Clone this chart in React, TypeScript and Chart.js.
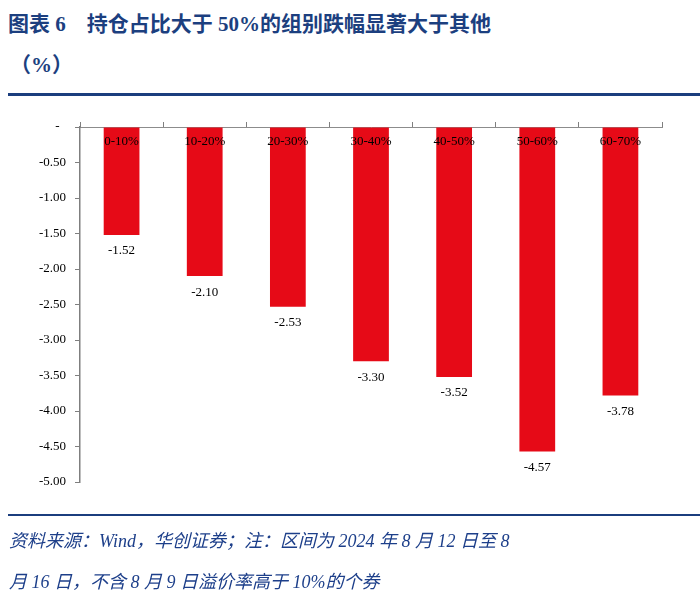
import React, { useEffect, useRef } from "react";
import { Chart, registerables } from "chart.js";

Chart.register(...registerables);

const categories = ["0-10%", "10-20%", "20-30%", "30-40%", "40-50%", "50-60%", "60-70%"];
const values = [-1.52, -2.1, -2.53, -3.3, -3.52, -4.57, -3.78];
const yMin = -5;
const yMax = 0;
const yStep = 0.5;

const titleLine1 = "图表 6\u3000持仓占比大于 50%的组别跌幅显著大于其他";
const titleLine2 = "（%）";
const sourceLine1 = "资料来源：Wind，华创证券；注：区间为 2024 年 8 月 12 日至 8";
const sourceLine2 = "月 16 日，不含 8 月 9 日溢价率高于 10%的个券";

const SERIF = '"Liberation Serif", "Times New Roman", serif';

const labelPlugin = {
  id: "barLabels",
  afterDatasetsDraw(chart: any) {
    const ctx = chart.ctx;
    const xs = chart.scales.x;
    const ys = chart.scales.y;
    ctx.save();
    ctx.font = `13px ${SERIF}`;
    ctx.fillStyle = "#000";
    ctx.textAlign = "center";
    ctx.textBaseline = "middle";
    categories.forEach((c, i) => {
      const x = xs.getPixelForValue(i);
      ctx.fillText(c, x, ys.getPixelForValue(0) + 15);
      ctx.fillText(values[i].toFixed(2), x, ys.getPixelForValue(values[i]) + 16);
    });
    ctx.restore();
  },
};

export default function App() {
  const ref = useRef<HTMLCanvasElement | null>(null);
  useEffect(() => {
    if (!ref.current) return;
    const chart = new Chart(ref.current, {
      type: "bar",
      data: {
        labels: categories,
        datasets: [
          {
            data: values,
            backgroundColor: "#E60A17",
            borderWidth: 0,
            barPercentage: 0.43,
            categoryPercentage: 1,
          },
        ],
      },
      options: {
        animation: false,
        responsive: false,
        devicePixelRatio: 1,
        layout: { padding: { top: 117, left: 0, right: 38, bottom: 120 } },
        plugins: { legend: { display: false }, tooltip: { enabled: false } },
        scales: {
          x: {
            position: "top",
            ticks: { display: false },
            grid: {
              drawOnChartArea: false,
              drawTicks: true,
              tickLength: 5,
              color: "#7f7f7f",
              offset: true,
            },
            border: { color: "#8c8c8c", width: 1 },
            afterFit: (s: any) => {
              s.height = 10;
            },
          },
          y: {
            min: yMin,
            max: yMax,
            ticks: {
              stepSize: yStep,
              padding: 9,
              color: "#000",
              font: { family: SERIF, size: 13 },
              callback: (v: any) => (Number(v) === 0 ? "-  " : Number(v).toFixed(2)),
            },
            grid: {
              drawOnChartArea: false,
              drawTicks: true,
              tickLength: 5,
              color: "#7f7f7f",
            },
            border: { color: "#7f7f7f", width: 1.5 },
            afterFit: (s: any) => {
              s.width = 80;
            },
          },
        },
      },
      plugins: [labelPlugin],
    } as any);
    return () => chart.destroy();
  }, []);

  return (
    <div style={{ position: "absolute", left: 0, top: 0, width: 700, height: 602, background: "#fff" }}>
      <div
        style={{
          position: "absolute",
          left: 8,
          top: 4,
          fontFamily: `"Liberation Serif", "Noto Sans CJK SC", serif`,
          fontWeight: 700,
          fontSize: 21,
          lineHeight: "41px",
          color: "#1C3F7F",
          whiteSpace: "pre",
        }}
      >
        <div>{titleLine1}</div>
        <div style={{ paddingLeft: 2 }}>{titleLine2}</div>
      </div>
      <div style={{ position: "absolute", left: 8, top: 93, width: 692, height: 3, background: "#1B3E7E" }} />
      <canvas ref={ref} width={700} height={602} style={{ position: "absolute", left: 0, top: 0, width: 700, height: 602 }} />
      <div style={{ position: "absolute", left: 8, top: 514, width: 692, height: 2, background: "#1B3E7E" }} />
      <div
        style={{
          position: "absolute",
          left: 9,
          top: 521,
          fontFamily: `"Liberation Serif", "Noto Sans CJK SC", serif`,
          fontStyle: "italic",
          fontSize: 18,
          lineHeight: "41px",
          color: "#1D3F8A",
          whiteSpace: "pre",
        }}
      >
        <div>{sourceLine1}</div>
        <div>{sourceLine2}</div>
      </div>
    </div>
  );
}
